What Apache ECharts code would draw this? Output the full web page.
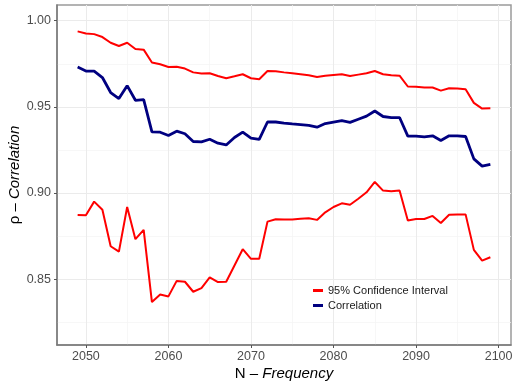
<!DOCTYPE html>
<html>
<head>
<meta charset="utf-8">
<script src="https://cdn.jsdelivr.net/npm/echarts@6/dist/echarts.min.js"></script>
<style>
  html, body { margin: 0; padding: 0; background: #fff; }
  #main { width: 517px; height: 388px; }
</style>
</head>
<body>
<div id="main"></div>
<script>
var years = [2049, 2050, 2051, 2052, 2053, 2054, 2055, 2056, 2057, 2058,
    2059, 2060, 2061, 2062, 2063, 2064, 2065, 2066, 2067, 2068,
    2069, 2070, 2071, 2072, 2073, 2074, 2075, 2076, 2077, 2078,
    2079, 2080, 2081, 2082, 2083, 2084, 2085, 2086, 2087, 2088,
    2089, 2090, 2091, 2092, 2093, 2094, 2095, 2096, 2097, 2098, 2099];

var upperCI = [0.9938, 0.9926, 0.9922, 0.9905, 0.9872, 0.9853, 0.9872, 0.9836, 0.9832, 0.9757,
    0.9747, 0.9731, 0.9733, 0.9722, 0.9700, 0.9693, 0.9695, 0.9679, 0.9666, 0.9677,
    0.9689, 0.9666, 0.9660, 0.9708, 0.9707, 0.9700, 0.9695, 0.9689, 0.9683, 0.9673,
    0.9681, 0.9685, 0.9689, 0.9679, 0.9687, 0.9695, 0.9708, 0.9689, 0.9683, 0.9681,
    0.9618, 0.9616, 0.9612, 0.9612, 0.9594, 0.9608, 0.9606, 0.9602, 0.9523, 0.9490, 0.9492];

var correlation = [0.9731, 0.9708, 0.9707, 0.9670, 0.9583, 0.9548, 0.9623, 0.9538, 0.9542, 0.9355,
    0.9353, 0.9334, 0.9359, 0.9344, 0.9299, 0.9297, 0.9312, 0.9289, 0.9279, 0.9322,
    0.9353, 0.9318, 0.9311, 0.9412, 0.9412, 0.9406, 0.9401, 0.9397, 0.9393, 0.9382,
    0.9403, 0.9412, 0.9420, 0.9410, 0.9428, 0.9446, 0.9476, 0.9444, 0.9438, 0.9438,
    0.9330, 0.9330, 0.9326, 0.9332, 0.9305, 0.9332, 0.9332, 0.9328, 0.9198, 0.9156, 0.9166];

var lowerCI = [0.8873, 0.8871, 0.8950, 0.8903, 0.8691, 0.8660, 0.8919, 0.8732, 0.8786, 0.8367,
    0.8411, 0.8400, 0.8490, 0.8485, 0.8427, 0.8448, 0.8510, 0.8483, 0.8485, 0.8579,
    0.8674, 0.8618, 0.8618, 0.8834, 0.8848, 0.8846, 0.8846, 0.8851, 0.8853, 0.8844,
    0.8888, 0.8919, 0.8940, 0.8932, 0.8967, 0.9004, 0.9064, 0.9014, 0.9010, 0.9015,
    0.8840, 0.8849, 0.8849, 0.8867, 0.8826, 0.8874, 0.8876, 0.8876, 0.8670, 0.8608, 0.8627];

// tick labels
var xTicks = [2050, 2060, 2070, 2080, 2090, 2100];
var xMinor = [2055, 2065, 2075, 2085, 2095];
var yTicks = [0.85, 0.90, 0.95, 1.00];
var yMinor = [0.825, 0.875, 0.925, 0.975];

function pairs(vals) {
    return years.map(function (y, i) { return [y, vals[i]]; });
}

var font = 'Liberation Sans, Arial, sans-serif';
var xRange = [2046.5, 2101.5];
var yRange = [0.8118, 1.0091];

var myChart = echarts.init(document.getElementById('main'));
var option = {
    animation: false,
    backgroundColor: '#fff',
    textStyle: { fontFamily: font },
    grid: {
        left: 57,
        right: 6,
        top: 5,
        bottom: 43,
        outerBoundsMode: 'none',
        containLabel: false,
        show: true,
        borderColor: '#9a9a9a',
        borderWidth: 1.5
    },
    legend: {
        orient: 'vertical',
        left: 308,
        top: 280,
        icon: 'rect',
        itemWidth: 10,
        itemHeight: 3,
        itemGap: 4,
        textStyle: { fontSize: 11, color: '#1a1a1a', fontFamily: font },
        data: ['95% Confidence Interval', 'Correlation']
    },
    xAxis: [
        {
            type: 'value',
            min: xRange[0],
            max: xRange[1],
            name: '{n|N – }{i|Frequency}',
            nameLocation: 'middle',
            nameGap: 21,
            nameMoveOverlap: false,
            nameTextStyle: {
                rich: {
                    n: { fontSize: 15, color: '#000', fontFamily: font },
                    i: { fontSize: 15, color: '#000', fontStyle: 'italic', fontFamily: font }
                }
            },
            axisLine: { show: true, onZero: false, lineStyle: { color: '#7a7a7a', width: 1.5 } },
            axisTick: { show: true, length: 3, customValues: xTicks, lineStyle: { color: '#555' } },
            axisLabel: {
                customValues: xTicks,
                fontSize: 12.5,
                color: '#4d4d4d',
                margin: 5,
                formatter: function (v) { return v.toFixed(0); }
            },
            splitLine: { show: true, lineStyle: { color: '#ebebeb', width: 1 } }
        },
        {
            type: 'value',
            min: xRange[0],
            max: xRange[1],
            position: 'bottom',
            axisLine: { show: false },
            axisTick: { show: false, customValues: xMinor },
            axisLabel: { show: false, customValues: xMinor },
            splitLine: { show: true, lineStyle: { color: '#f4f4f4', width: 0.7 } }
        }
    ],
    yAxis: [
        {
            type: 'value',
            min: yRange[0],
            max: yRange[1],
            name: '{n|ρ – }{i|Correlation}',
            nameLocation: 'middle',
            nameGap: 35,
            nameMoveOverlap: false,
            nameTextStyle: {
                rich: {
                    n: { fontSize: 15, color: '#000', fontFamily: font },
                    i: { fontSize: 15, color: '#000', fontStyle: 'italic', fontFamily: font }
                }
            },
            axisLine: { show: true, onZero: false, lineStyle: { color: '#7a7a7a', width: 1.5 } },
            axisTick: { show: true, length: 3, customValues: yTicks, lineStyle: { color: '#555' } },
            axisLabel: {
                customValues: yTicks,
                fontSize: 12.5,
                color: '#4d4d4d',
                margin: 6,
                formatter: function (v) { return v.toFixed(2); }
            },
            splitLine: { show: true, lineStyle: { color: '#ebebeb', width: 1 } }
        },
        {
            type: 'value',
            min: yRange[0],
            max: yRange[1],
            position: 'left',
            axisLine: { show: false },
            axisTick: { show: false, customValues: yMinor },
            axisLabel: { show: false, customValues: yMinor },
            splitLine: { show: true, lineStyle: { color: '#f4f4f4', width: 0.7 } }
        }
    ],
    series: [
        {
            name: '95% Confidence Interval',
            type: 'line',
            data: pairs(upperCI),
            showSymbol: false,
            color: '#ff0000',
            lineStyle: { width: 2, color: '#ff0000' }
        },
        {
            name: '95% Confidence Interval',
            type: 'line',
            data: pairs(lowerCI),
            showSymbol: false,
            color: '#ff0000',
            lineStyle: { width: 2, color: '#ff0000' }
        },
        {
            name: 'Correlation',
            type: 'line',
            data: pairs(correlation),
            showSymbol: false,
            color: '#000080',
            lineStyle: { width: 2.8, color: '#000080' }
        }
    ]
};
myChart.setOption(option);
</script>
</body>
</html>
